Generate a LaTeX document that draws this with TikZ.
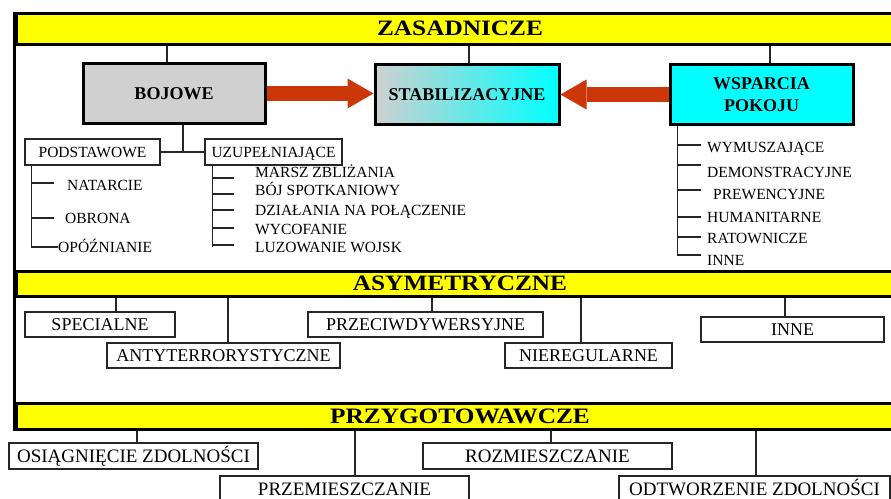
\documentclass[tikz,border=0pt]{standalone}
\usepackage{fontspec}
\setmainfont{Liberation Serif}
\newfontfamily\titlefont[FakeStretch=1.15]{Liberation Serif}
\usetikzlibrary{arrows.meta,positioning,calc}
\definecolor{barYellow}{RGB}{255,255,0}
\definecolor{boxGray}{RGB}{208,208,208}
\definecolor{boxCyan}{RGB}{0,255,255}
\definecolor{arrowRed}{RGB}{204,55,10}

\begin{document}
\begin{tikzpicture}[
    x=1pt, y=-1pt,
    bar/.style={rectangle, draw, line width=3pt, fill=barYellow, minimum width=888pt,
                inner sep=0pt, font=\titlefont\bfseries\fontsize{22}{22}\selectfont},
    outerframe/.style={line width=3pt},
    bigbox/.style={rectangle, draw, line width=3pt, minimum height=60pt, align=center,
                   font=\bfseries\fontsize{18}{22}\selectfont},
    subbox/.style={rectangle, draw=black!85, line width=1.5pt, minimum height=26pt, inner sep=0pt,
                   text height=10.5pt, text depth=0pt, font=\fontsize{15.5}{15.5}\selectfont},
    midbox/.style={rectangle, draw=black!85, line width=1.5pt, fill=white, minimum height=25pt,
                   inner sep=0pt, text height=12pt, text depth=0pt, font=\fontsize{18}{18}\selectfont},
    lowbox/.style={rectangle, draw=black!85, line width=1.5pt, fill=white, minimum height=26pt,
                   inner sep=0pt, text height=12.5pt, text depth=0pt, font=\fontsize{19}{19}\selectfont},
    item/.style={anchor=west, inner sep=0pt, text height=10pt, text depth=0pt,
                 font=\fontsize{15.5}{15.5}\selectfont},
    conn/.style={draw=black!85, line width=1.5pt},
    bigarrow/.style={draw=arrowRed, line width=15pt,
                     -{Triangle[length=26pt, width=30pt, line width=0pt]}},
]
\useasboundingbox (0,0) rectangle (891,498);

% Bars
\node[bar, minimum height=31pt] (zas) at (460,28.5) {ZASADNICZE};
\node[bar, minimum height=25pt] (asym) at (460,283.5) {ASYMETRYCZNE};
\node[bar, minimum height=26pt] (przyg) at (460,416) {PRZYGOTOWAWCZE};
\draw[outerframe] (zas.north west) -- (przyg.south west);

% Zasadnicze
\node[bigbox, fill=boxGray, minimum width=182pt] (bojowe) at (174,93.5) {BOJOWE};
\node[bigbox, left color=boxGray, right color=boxCyan, minimum width=184pt] (stab) at (467,94.5) {STABILIZACYJNE};
\node[bigbox, fill=boxCyan, minimum width=183pt] (wsp) at (761.5,94.5) {WSPARCIA\\POKOJU};

\draw[conn] ([xshift=-7pt]bojowe.north) -- ([xshift=-7pt]bojowe.north |- zas.south);
\draw[conn] ([xshift=2pt]stab.north) -- ([xshift=2pt]stab.north |- zas.south);
\draw[conn] ([xshift=8.5pt]wsp.north) -- ([xshift=8.5pt]wsp.north |- zas.south);

\draw[bigarrow] (bojowe.east) -- (bojowe.east -| stab.west);
\draw[bigarrow] (wsp.west) -- (wsp.west -| stab.east);

% Bojowe
\node[subbox, minimum width=135pt] (podst) at (92.5,152) {PODSTAWOWE};
\node[subbox, minimum width=137pt] (uzup) at (273.5,152) {UZUPEŁNIAJĄCE};
\draw[conn] (podst) -- (uzup);
\draw[conn] ([xshift=9pt]bojowe.south) -- ([xshift=9pt]bojowe.south |- podst.east);

\node[item] (natarcie) at (67,185) {NATARCIE};
\node[item] (obrona) at (65,218) {OBRONA};
\node[item] (opozn) at (58,247) {OPÓŹNIANIE};
\coordinate (podstline) at ([xshift=7pt]podst.south west);
\draw[conn] (podstline) |- (opozn.west);
\foreach \n/\dy in {natarcie/-2, obrona/0}
    \draw[conn] (podstline |- \n.west) ++(0,\dy) -- ++(23,0);

\node[item] (marsz) at (255,172) {MARSZ ZBLIŻANIA};
\node[item] (boj) at (255,190) {BÓJ SPOTKANIOWY};
\node[item] (dzial) at (255,210) {DZIAŁANIA NA POŁĄCZENIE};
\node[item] (wycof) at (255,229) {WYCOFANIE};
\node[item] (luzow) at (255,247) {LUZOWANIE WOJSK};
\coordinate (uzupline) at ([xshift=8pt]uzup.south west);
\draw[conn] (uzupline) -- (uzupline |- luzow.west) ++(0,-2) -- ++(22,0);
\foreach \n/\dy in {marsz/6, boj/4, dzial/0, wycof/-1}
    \draw[conn] (uzupline |- \n.west) ++(0,\dy) -- ++(22,0);

% Wsparcia pokoju
\node[item] (wymus) at (707,147) {WYMUSZAJĄCE};
\node[item] (demon) at (707,172) {DEMONSTRACYJNE};
\node[item] (prew) at (713,194) {PREWENCYJNE};
\node[item] (human) at (707,217) {HUMANITARNE};
\node[item] (ratow) at (707,238) {RATOWNICZE};
\node[item] (inne) at (707,260) {INNE};
\coordinate (wspline) at ([xshift=9pt]wsp.south west);
\draw[conn] (wspline) -- ($(wspline |- inne.west)+(0,-5)$) -- ++(23,0);
\foreach \n/\dy in {wymus/-2, demon/-7, prew/-4, human/0, ratow/-1}
    \draw[conn] (wspline |- \n.west) ++(0,\dy) -- ++(23,0);

% Asymetryczne
\node[midbox, minimum width=150pt] (spec) at (100,324.5) {SPECIALNE};
\node[midbox, minimum width=233pt] (anty) at (223.5,355.5) {ANTYTERRORYSTYCZNE};
\node[midbox, minimum width=235pt] (przeciw) at (425.5,324.5) {PRZECIWDYWERSYJNE};
\node[midbox, minimum width=167pt] (niereg) at (588.5,355.5) {NIEREGULARNE};
\node[midbox, minimum width=183pt] (inneasym) at (792.5,329.5) {INNE};

\draw[conn] ([xshift=16pt]spec.north) -- ([xshift=16pt]spec.north |- asym.south);
\draw[conn] ([xshift=4.5pt]anty.north) -- ([xshift=4.5pt]anty.north |- asym.south);
\draw[conn] ([xshift=6.5pt]przeciw.north) -- ([xshift=6.5pt]przeciw.north |- asym.south);
\draw[conn] ([xshift=-7.5pt]niereg.north) -- ([xshift=-7.5pt]niereg.north |- asym.south);
\draw[conn] ([xshift=-7.5pt]inneasym.north) -- ([xshift=-7.5pt]inneasym.north |- asym.south);

% Przygotowawcze
\node[lowbox, minimum width=249pt] (osiag) at (133.5,456) {OSIĄGNIĘCIE ZDOLNOŚCI};
\node[lowbox, minimum width=249pt] (przem) at (344.5,489) {PRZEMIESZCZANIE};
\node[lowbox, minimum width=249pt] (rozm) at (547.5,456) {ROZMIESZCZANIE};
\node[lowbox, minimum width=271pt] (odtw) at (754.5,489) {ODTWORZENIE ZDOLNOŚCI};

\draw[conn] ([xshift=3.5pt]osiag.north) -- ([xshift=3.5pt]osiag.north |- przyg.south);
\draw[conn] ([xshift=10.5pt]przem.north) -- ([xshift=10.5pt]przem.north |- przyg.south);
\draw[conn] ([xshift=3.5pt]rozm.north) -- ([xshift=3.5pt]rozm.north |- przyg.south);
\draw[conn] ([xshift=1.5pt]odtw.north) -- ([xshift=1.5pt]odtw.north |- przyg.south);

\end{tikzpicture}
\end{document}
